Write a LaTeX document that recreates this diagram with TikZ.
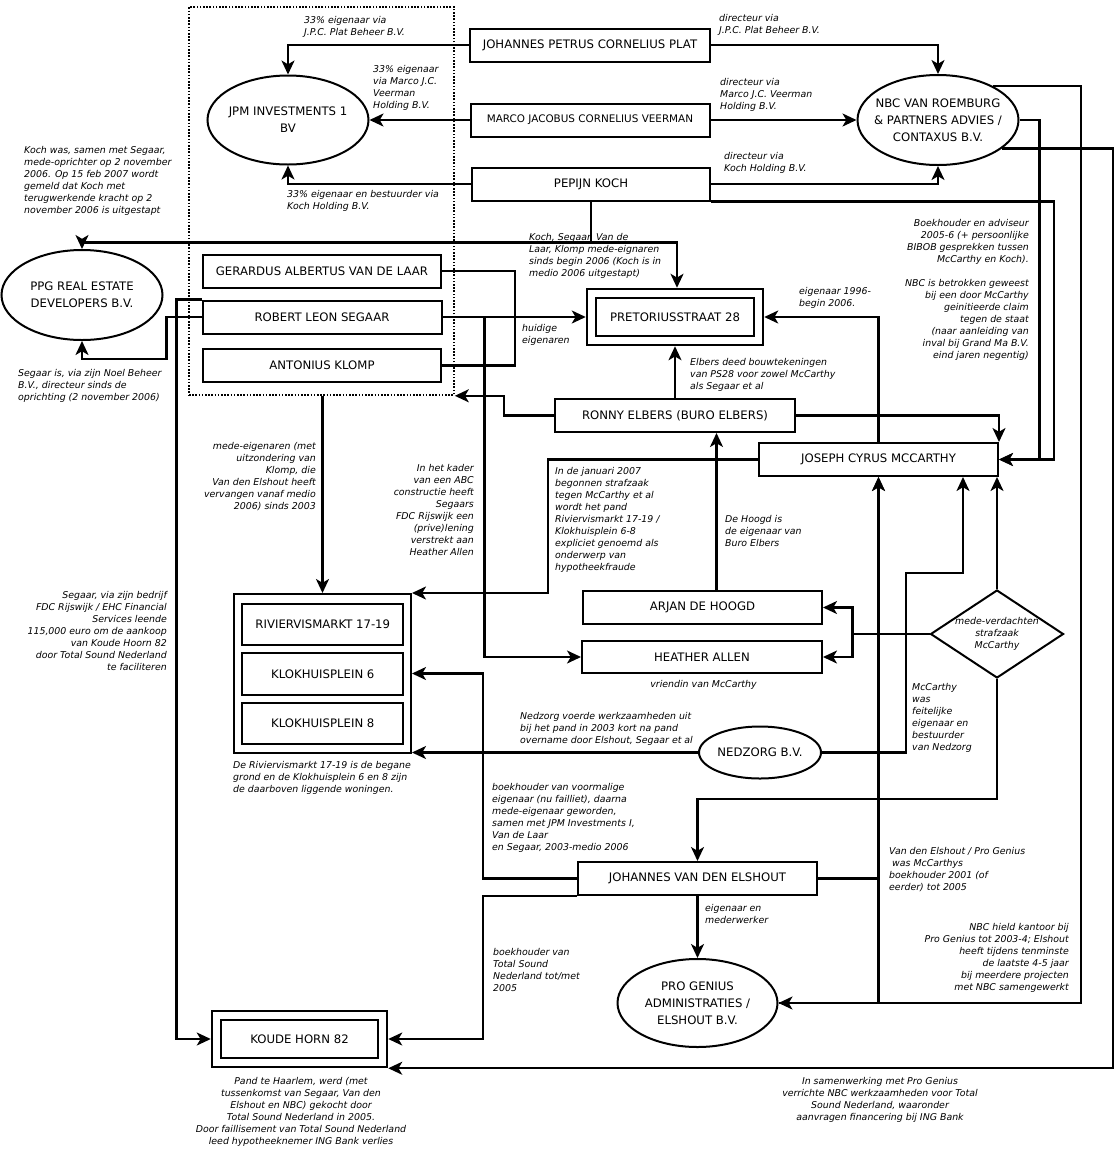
\documentclass[tikz,border=0pt]{standalone}
\usepackage{fontspec}
\setmainfont{DejaVu Sans}
\usetikzlibrary{arrows.meta,shapes.geometric}

\newcommand\boxsize{\fontsize{11.7}{16.8}\selectfont}
\newcommand\notesize{\fontsize{9.4}{12}\selectfont}

\tikzset{
  box/.style={draw, line width=2pt, inner sep=0pt, minimum height=32pt, font=\boxsize},
  dbox/.style={box, double, double distance=7.5pt, outer sep=5.75pt},
  ell/.style={draw, ellipse, line width=2pt, inner xsep=-8pt, inner ysep=0pt, align=center, font=\boxsize},
  grpbox/.style={draw, line width=1.6pt, dash pattern=on 1.6pt off 1.6pt, inner sep=0pt},
  note/.style={font=\notesize\itshape, align=left, inner sep=0pt},
  link/.style={line width=2.1pt, -{Stealth[length=14pt,width=13pt,inset=3.8pt]}},
  wire/.style={line width=2.1pt},
}

\begin{document}
\begin{tikzpicture}[x=1pt,y=-1pt]
    \useasboundingbox (0,0) rectangle (1116,1163);

    % persons and companies
    \node [grpbox, minimum width=265pt, minimum height=388pt] (grp) at (321.5,201) {};
    \node [box, minimum width=240pt, minimum height=33pt] (plat) at (590,45) {JOHANNES PETRUS CORNELIUS PLAT};
    \node [box, minimum width=239pt, minimum height=33pt, font=\fontsize{10.4}{12}\selectfont] (veer) at (590,120) {MARCO JACOBUS CORNELIUS VEERMAN};
    \node [box, minimum width=238pt, minimum height=33pt] (koch) at (591,184) {PEPIJN KOCH};
    \node [ell, minimum width=161pt, minimum height=89pt] (jpm) at (288,120) {JPM INVESTMENTS 1\\BV};
    \node [ell, minimum width=161pt, minimum height=90pt] (nbc) at (938,120) {NBC VAN ROEMBURG\\\& PARTNERS ADVIES /\\CONTAXUS B.V.};
    \node [ell, minimum width=161pt, minimum height=90pt] (ppg) at (82,295) {PPG REAL ESTATE\\DEVELOPERS B.V.};
    \node [box, minimum width=238pt, minimum height=33pt] (gerardus) at (322,271) {GERARDUS ALBERTUS VAN DE LAAR};
    \node [box, minimum width=239pt, minimum height=33pt] (robert) at (322,317) {ROBERT LEON SEGAAR};
    \node [box, minimum width=238pt, minimum height=33pt] (antonius) at (322,365.5) {ANTONIUS KLOMP};
    \node [dbox, minimum width=167pt, minimum height=47pt] (pret) at (675,317) {PRETORIUSSTRAAT 28};
    \node [box, minimum width=240pt, minimum height=33pt] (elbers) at (675,415.5) {RONNY ELBERS (BURO ELBERS)};
    \node [box, minimum width=239pt, minimum height=33pt] (mcc) at (878.5,459.5) {JOSEPH CYRUS MCCARTHY};
    \node [box, minimum width=177pt, minimum height=159pt] (riv) at (322.5,673.5) {};
    \node [box, minimum width=161pt, minimum height=41pt] (riv1) at (322.8,624.5) {RIVIERVISMARKT 17-19};
    \node [box, minimum width=161pt, minimum height=42pt] (klok6) at (322.8,674) {KLOKHUISPLEIN 6};
    \node [box, minimum width=161pt, minimum height=41pt] (klok8) at (322.8,723.5) {KLOKHUISPLEIN 8};
    \node [box, minimum width=239pt, minimum height=33pt] (arjan) at (702.5,607.5) {ARJAN DE HOOGD};
    \node [box, minimum width=240pt, minimum height=32pt] (heather) at (702,657) {HEATHER ALLEN};
    \node [draw, diamond, line width=2pt, inner sep=-1pt, aspect=1.45, minimum width=133pt,
      minimum height=88pt, align=center, font=\notesize\itshape] (dia) at (997,634) {mede-verdachten\\strafzaak\\McCarthy};
    \node [ell, minimum width=122pt, minimum height=52pt] (ned) at (760,752.5) {NEDZORG B.V.};
    \node [box, minimum width=239pt, minimum height=33pt] (elshout) at (697.5,878.5) {JOHANNES VAN DEN ELSHOUT};
    \node [ell, minimum width=160pt, minimum height=88pt] (pg) at (697.5,1003) {PRO GENIUS\\ADMINISTRATIES /\\ELSHOUT B.V.};
    \node [dbox, minimum width=166pt, minimum height=47pt] (koude) at (299.5,1039) {KOUDE HORN 82};

    % connectors
    \draw [link] (plat.west) -| (jpm.north) ;
    \draw [link] (plat.east) -| (nbc.north) ;
    \draw [link] (veer.west) -- (jpm.east) ;
    \draw [link] (veer.east) -- (nbc.west) ;
    \draw [link] (koch.west) -| (jpm.south) ;
    \draw [link] (koch.east) -| (nbc.south) ;
    \draw [link] (koch.south) -- ++(0,41) -| (ppg.north) ;
    \draw [link] (koch.south) -- ++(0,41) -| ([xshift=2pt]pret.north) ;
    \draw [link] (koch.south east) -- ++(343,0) |- (mcc.east) ;
    \draw [link] (nbc.east) -- ++(20,0) |- (mcc.east) ;
    \draw [link] (nbc.32) -- (nbc.32 -| 1081,0) |- (pg.east) ;
    \draw [link] (nbc.-24) -- (nbc.-24 -| 1113,0) |- (koude.south east) ;
    \draw [link] (robert.west) -- ++(-35,0) -- ++(0,42) -| (ppg.south) ;
    \draw [link] (robert.north west) -- ++(-25,0) |- (koude.west) ;
    \draw [wire] (gerardus.east) -- ++(73,0) |- (antonius.east) ;
    \draw [link] (robert.east) -- (pret.west) ;
    \draw [link] (robert.east) -- ++(42,0) |- (heather.west) ;
    \draw [link] (riv.north |- grp.south) -- (riv.north) ;
    \draw [link] (elbers.west) -- ++(-50,0) |- (grp.south east) ;
    \draw [link] (elbers.north) -- (pret.south) ;
    \draw [link] (elbers.east) -| (mcc.north east) ;
    \draw [link] (mcc.north) |- (pret.east) ;
    \draw [link] (mcc.west) -- ++(-210,0) |- (riv.north east) ;
    \draw [link] ([xshift=14pt]arjan.north) -- ([xshift=14pt]arjan.north |- elbers.south) ;
    \draw [link] (dia.west) -- ++(-77,0) |- (arjan.east) ;
    \draw [link] (dia.west) -- ++(-77,0) |- (heather.east) ;
    \draw [link] (dia.north) -- (dia.north |- mcc.south) ;
    \draw [link] (dia.south) -- ++(0,120) -| (elshout.north) ;
    \coordinate (nedup) at (906,573) ;
    \draw [link] (ned.east) -| (nedup) -| ([xshift=84.5pt]mcc.south) ;
    \draw [link] (ned.west) -- (ned.west -| riv.east) ;
    \draw [link] (elshout.west) -- ++(-94,0) |- (riv.east) ;
    \draw [link] (elshout.south west) -- ++(-94,0) |- (koude.east) ;
    \draw [link] (elshout.south) -- (pg.north) ;
    \draw [link] (elshout.east) -| (mcc.south) ;
    \draw [link] (pg.east) -| (mcc.south) ;

    % notes
    \node [note, anchor=north west] (n1) at (304,16) {33\% eigenaar via\\J.P.C. Plat Beheer B.V.};
    \node [note, anchor=north west] (n2) at (719,14) {directeur via\\J.P.C. Plat Beheer B.V.};
    \node [note, anchor=north west] (n3) at (373,65) {33\% eigenaar\\via Marco J.C.\\Veerman\\Holding B.V.};
    \node [note, anchor=north west] (n4) at (720,78) {directeur via\\Marco J.C. Veerman\\Holding B.V.};
    \node [note, anchor=north west] (n5) at (287,190) {33\% eigenaar en bestuurder via\\Koch Holding B.V.};
    \node [note, anchor=north west] (n6) at (724,152) {directeur via\\Koch Holding B.V.};
    \node [note, anchor=north west] (n7) at (24,146) {Koch was, samen met Segaar,\\mede-oprichter op 2 november\\2006. Op 15 feb 2007 wordt\\gemeld dat Koch met\\terugwerkende kracht op 2\\november 2006 is uitgestapt};
    \node [note, anchor=north west] (n8) at (529,233) {Koch, Segaar, Van de\\Laar, Klomp mede-eignaren\\sinds begin 2006 (Koch is in\\medio 2006 uitgestapt)};
    \node [note, align=right, anchor=north east] (n9) at (1029,219) {Boekhouder en adviseur\\2005-6 (+ persoonlijke\\BIBOB gesprekken tussen\\McCarthy en Koch).\\[12pt]NBC is betrokken geweest\\bij een door McCarthy\\geinitieerde claim\\tegen de staat\\(naar aanleiding van\\inval bij Grand Ma B.V.\\eind jaren negentig)};
    \node [note, anchor=north west] (n10) at (799,287) {eigenaar 1996-\\begin 2006.};
    \node [note, anchor=north west] (n11) at (522,324) {huidige\\eigenaren};
    \node [note, anchor=north west] (n12) at (18,369) {Segaar is, via zijn Noel Beheer\\B.V., directeur sinds de\\oprichting (2 november 2006)};
    \node [note, anchor=north west] (n13) at (690,358) {Elbers deed bouwtekeningen\\van PS28 voor zowel McCarthy\\als Segaar et al};
    \node [note, align=right, anchor=north east] (n14) at (316,442) {mede-eigenaren (met\\uitzondering van\\Klomp, die\\Van den Elshout heeft\\vervangen vanaf medio\\2006) sinds 2003};
    \node [note, align=right, anchor=north east] (n15) at (474,464) {In het kader\\van een ABC\\constructie heeft\\Segaars\\FDC Rijswijk een\\(prive)lening\\verstrekt aan\\Heather Allen};
    \node [note, anchor=north west] (n16) at (555,467) {In de januari 2007\\begonnen strafzaak\\tegen McCarthy et al\\wordt het pand\\Riviervismarkt 17-19 /\\Klokhuisplein 6-8\\expliciet genoemd als\\onderwerp van\\hypotheekfraude};
    \node [note, anchor=north west] (n17) at (725,515) {De Hoogd is\\de eigenaar van\\Buro Elbers};
    \node [note, align=right, anchor=north east] (n18) at (167,591) {Segaar, via zijn bedrijf\\FDC Rijswijk / EHC Financial\\Services leende\\115,000 euro om de aankoop\\van Koude Hoorn 82\\door Total Sound Nederland\\te faciliteren};
    \node [note, anchor=north] (n19) at (703.5,680) {vriendin van McCarthy};
    \node [note, anchor=north west] (n20) at (912,683) {McCarthy\\was\\feitelijke\\eigenaar en\\bestuurder\\van Nedzorg};
    \node [note, anchor=north west] (n21) at (520,712) {Nedzorg voerde werkzaamheden uit\\bij het pand in 2003 kort na pand\\overname door Elshout, Segaar et al};
    \node [note, anchor=north west] (n22) at (233,761) {De Riviervismarkt 17-19 is de begane\\grond en de Klokhuisplein 6 en 8 zijn\\de daarboven liggende woningen.};
    \node [note, anchor=north west] (n23) at (492,783) {boekhouder van voormalige\\eigenaar (nu failliet), daarna\\mede-eigenaar geworden,\\samen met JPM Investments I,\\Van de Laar\\en Segaar, 2003-medio 2006};
    \node [note, anchor=north west] (n24) at (889,847) {Van den Elshout / Pro Genius\\\hspace*{3pt}was McCarthys\\boekhouder 2001 (of\\eerder) tot 2005};
    \node [note, anchor=north west] (n25) at (705,904) {eigenaar en\\mederwerker};
    \node [note, align=right, anchor=north east] (n26) at (1069,923) {NBC hield kantoor bij\\Pro Genius tot 2003-4; Elshout\\heeft tijdens tenminste\\de laatste 4-5 jaar\\bij meerdere projecten\\met NBC samengewerkt};
    \node [note, anchor=north west] (n27) at (493,948) {boekhouder van\\Total Sound\\Nederland tot/met\\2005};
    \node [note, align=center, anchor=north] (n28) at (301,1077) {Pand te Haarlem, werd (met\\tussenkomst van Segaar, Van den\\Elshout en NBC) gekocht door\\Total Sound Nederland in 2005.\\Door faillisement van Total Sound Nederland\\leed hypotheeknemer ING Bank verlies};
    \node [note, align=center, anchor=north] (n29) at (880,1077) {In samenwerking met Pro Genius\\verrichte NBC werkzaamheden voor Total\\Sound Nederland, waaronder\\aanvragen financering bij ING Bank};

  \end{tikzpicture}
\end{document}
